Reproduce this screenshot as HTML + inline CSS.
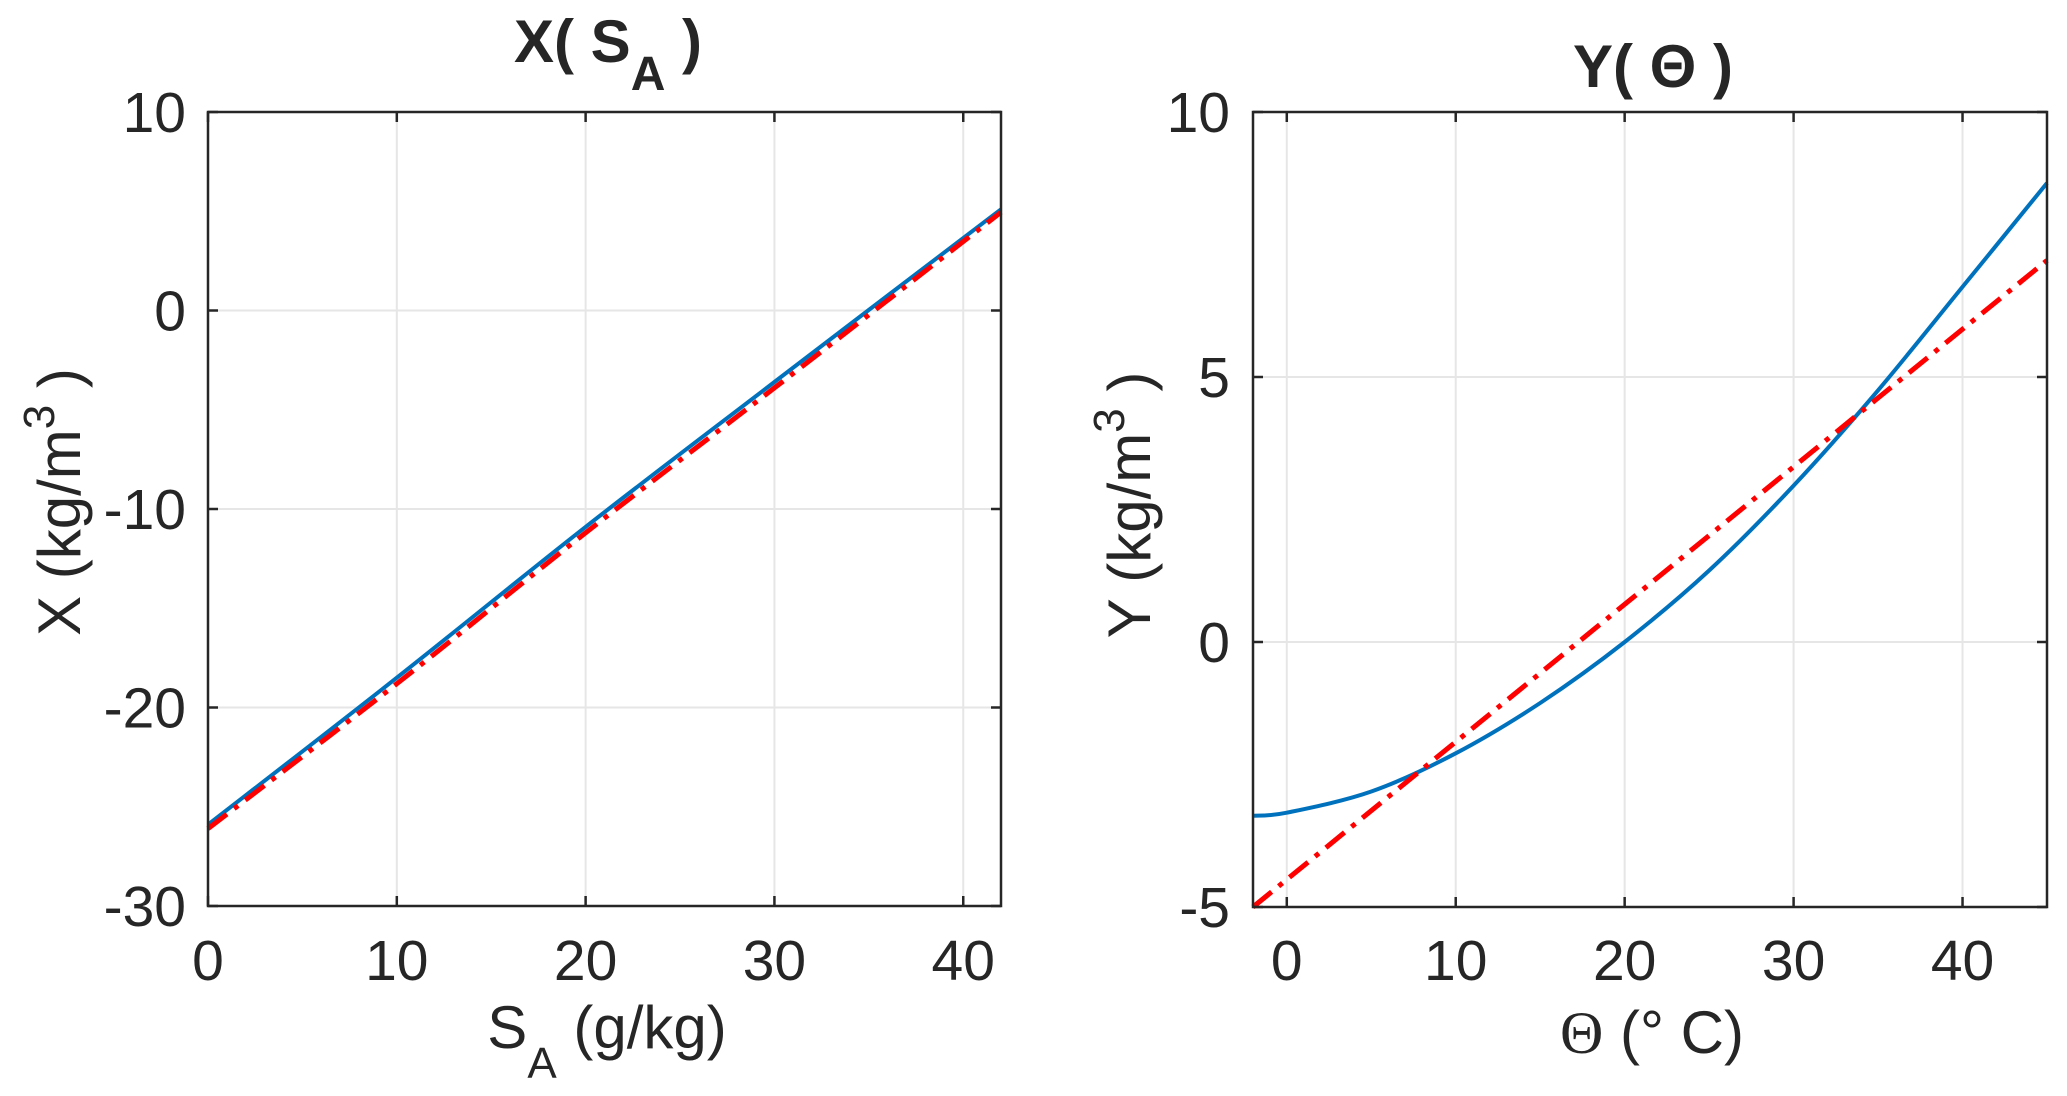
<!DOCTYPE html>
<html><head><meta charset="utf-8"><style>
html,body{margin:0;padding:0;background:#fff}
svg{display:block}
text{font-family:"Liberation Sans",Arial,sans-serif;fill:#262626}
</style></head><body>
<svg id="fig" width="2067" height="1096" viewBox="0 0 2067 1096" xmlns="http://www.w3.org/2000/svg">
<g id="p1"></g>
<g id="p2"></g>
<text x="608" y="62" text-anchor="middle" font-size="60" font-weight="bold">X( S<tspan dy="28" font-size="48">A</tspan><tspan dy="-28"> )</tspan></text>
<text x="1653" y="87" text-anchor="middle" font-size="60" font-weight="bold">Y( Θ )</text>
<text x="607" y="1048" text-anchor="middle" font-size="60">S<tspan dy="30" font-size="44">A</tspan><tspan dy="-30"> (g/kg)</tspan></text>
<text x="1652" y="1053" text-anchor="middle" font-size="60"><tspan font-family="Liberation Serif, serif">Θ</tspan> (° C)</text>
<text transform="translate(80,502) rotate(-90)" text-anchor="middle" font-size="60">X (kg/m<tspan dy="-26" font-size="44">3</tspan><tspan dy="26"> )</tspan></text>
<text transform="translate(1150,505) rotate(-90)" text-anchor="middle" font-size="60">Y (kg/m<tspan dy="-26" font-size="44">3</tspan><tspan dy="26"> )</tspan></text>
</svg>
<script>
// Left panel data
const xTicks1 = [0, 10, 20, 30, 40];
const yTicks1 = [-30, -20, -10, 0, 10];
const sa = [0, 10, 20, 30, 42];
const xBlue = [-25.9, -18.5, -10.9, -3.6, 5.1];
const xRed = [-26.1, -18.8, -11.2, -3.9, 4.95];
// Right panel data
const xTicks2 = [0, 10, 20, 30, 40];
const yTicks2 = [-5, 0, 5, 10];
const theta = [-2, 0, 5, 10, 15, 20, 25, 30, 35, 40, 45];
const yBlue = [-3.28, -3.22, -2.82, -2.1, -1.15, 0, 1.35, 2.95, 4.75, 6.7, 8.66];
const thetaLin = [-2, 45];
const yRed = [-5, 7.2];

const NS = 'http://www.w3.org/2000/svg';
function mk(tag, attrs, parent){const e=document.createElementNS(NS,tag);for(const k in attrs)e.setAttribute(k,attrs[k]);parent.appendChild(e);return e;}

function smoothPath(pts){
  if(pts.length<3) return pts.map((p,i)=>(i?'L':'M')+p[0].toFixed(1)+' '+p[1].toFixed(1)).join(' ');
  let d='M'+pts[0][0].toFixed(1)+' '+pts[0][1].toFixed(1);
  for(let i=0;i<pts.length-1;i++){
    const p0=pts[i-1]||pts[i], p1=pts[i], p2=pts[i+1], p3=pts[i+2]||p2;
    const c1=[p1[0]+(p2[0]-p0[0])/6, p1[1]+(p2[1]-p0[1])/6];
    const c2=[p2[0]-(p3[0]-p1[0])/6, p2[1]-(p3[1]-p1[1])/6];
    d+=' C'+c1[0].toFixed(1)+' '+c1[1].toFixed(1)+' '+c2[0].toFixed(1)+' '+c2[1].toFixed(1)+' '+p2[0].toFixed(1)+' '+p2[1].toFixed(1);
  }
  return d;
}

function panel(g, L, R, T, B, xmin, xmax, ymin, ymax, xt, yt, series, ylabX){
  const sx=v=>L+(v-xmin)/(xmax-xmin)*(R-L);
  const sy=v=>B-(v-ymin)/(ymax-ymin)*(B-T);
  xt.forEach(v=>{
    const l=mk('line',{x1:sx(v),x2:sx(v),y1:T,y2:B,stroke:'#e6e6e6','stroke-width':2},g);
    
    
  });
  yt.forEach(v=>{
    const l=mk('line',{x1:L,x2:R,y1:sy(v),y2:sy(v),stroke:'#e6e6e6','stroke-width':2},g);
    
    
  });
  series.forEach(s=>{
    const pts=s.x.map((v,i)=>[sx(v),sy(s.y[i])]);
    const p=mk('path',{d:smoothPath(pts),fill:'none',stroke:s.c,'stroke-width':s.w,'stroke-dasharray':s.dash||'none'},g);
    
    
  });
  const box=mk('rect',{x:L,y:T,width:R-L,height:B-T,fill:'none',stroke:'#262626','stroke-width':2.5},g);
  
  
  xt.forEach(v=>{
    mk('line',{x1:sx(v),x2:sx(v),y1:B,y2:B-10,stroke:'#262626','stroke-width':2.5},g);
    mk('line',{x1:sx(v),x2:sx(v),y1:T,y2:T+10,stroke:'#262626','stroke-width':2.5},g);
    const t=mk('text',{x:sx(v),y:980,'text-anchor':'middle','font-size':57},g);
    t.textContent=v;
    
    
  });
  yt.forEach(v=>{
    mk('line',{x1:L,x2:L+10,y1:sy(v),y2:sy(v),stroke:'#262626','stroke-width':2.5},g);
    mk('line',{x1:R,x2:R-10,y1:sy(v),y2:sy(v),stroke:'#262626','stroke-width':2.5},g);
    const t=mk('text',{x:ylabX,y:sy(v)+20,'text-anchor':'end','font-size':57},g);
    t.textContent=v;
    
    
  });
}
panel(document.getElementById('p1'),208,1001,112,906,0,42,-30,10,xTicks1,yTicks1,[
  {x:sa,y:xBlue,c:'#0072bd',w:4,name:'x-series-blue'},
  {x:sa,y:xRed,c:'#ff0000',w:5,dash:'24 9 5 9',name:'x-series-red'}],186);
panel(document.getElementById('p2'),1253,2047,112,907,-2,45,-5,10,xTicks2,yTicks2,[
  {x:theta,y:yBlue,c:'#0072bd',w:4,name:'y-series-blue'},
  {x:thetaLin,y:yRed,c:'#ff0000',w:5,dash:'24 9 5 9',name:'y-series-red'}],1230);
</script>
</body></html>
